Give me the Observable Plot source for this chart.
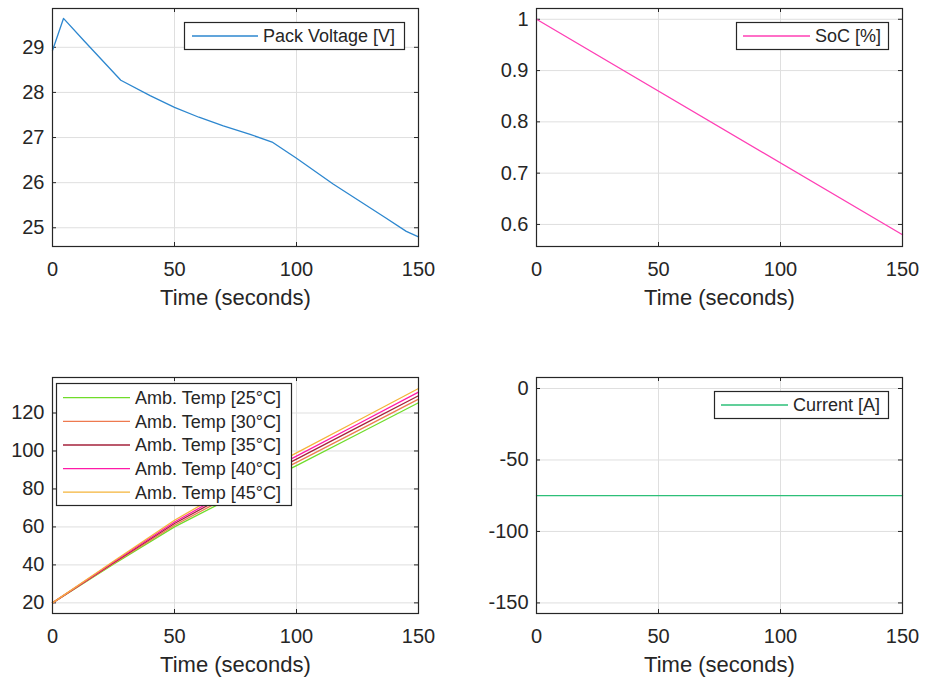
<!DOCTYPE html>
<html><head><meta charset="utf-8">
<script src="https://cdn.jsdelivr.net/npm/d3@7"></script>
<script src="https://cdn.jsdelivr.net/npm/@observablehq/plot@0.6"></script>
<style>
body{margin:0;background:#fff;}
#root{position:relative;width:926px;height:679px;font-family:"Liberation Sans",Arial,sans-serif;color:#262626;background:#fff;}
.cell{position:absolute;}
.cell svg{overflow:visible;}
</style></head><body><div id="root"></div>
<script>
// ---- data ----
const xTicks = [0, 50, 100, 150];

const voltTime = [0, 4.5, 13, 28, 40, 50, 60, 70, 81, 90, 100, 115, 136, 145, 150];
const voltage  = [28.93, 29.64, 29.14, 28.27, 27.93, 27.67, 27.45, 27.26, 27.07, 26.9, 26.54, 25.97, 25.24, 24.92, 24.8];
const voltTicks = [25, 26, 27, 28, 29];

const socTime = [0, 150];
const soc = [1.0, 0.58];
const socTicks = [0.6, 0.7, 0.8, 0.9, 1];

const tempTime = [0, 25, 50, 75, 100, 125, 150];
const temp25 = [20, 40.3, 60.0, 76.5, 92.3, 108.8, 125.4];
const temp30 = [20, 40.7, 60.9, 77.9, 94.0, 110.6, 127.3];
const temp35 = [20, 41.1, 61.8, 79.3, 95.7, 112.4, 129.1];
const temp40 = [20, 41.5, 62.6, 80.6, 97.3, 114.1, 131.0];
const temp45 = [20, 41.9, 63.5, 82.0, 99.0, 115.9, 132.9];
const tempLabels = ["Amb. Temp [25°C]", "Amb. Temp [30°C]", "Amb. Temp [35°C]", "Amb. Temp [40°C]", "Amb. Temp [45°C]"];
const tempTicks = [20, 40, 60, 80, 100, 120];

const curTime = [0, 150];
const current = [-75, -75];
const curTicks = [-150, -100, -50, 0];

const xLabel = "Time (seconds)";

// ---- styles ----
const INK = "#262626";
const GRID = "#dfdfdf";
const colVolt = "#2d87cf";
const colSoc = "#ff3fb5";
const colCur = "#2dbf78";
const colTemps = ["#6fdc2a", "#ee7a4f", "#a5223b", "#ff1aa8", "#f4b43a"];

const root = document.getElementById("root");

function panel({left, top, width, height, mL, mR, mT, mB, yDomain, yTicks, series, labelDy}) {
  const fw = width - mL - mR, fh = height - mT - mB;
  const marks = [
    Plot.gridX(xTicks, {stroke: GRID, strokeOpacity: 1}),
    Plot.gridY(yTicks, {stroke: GRID, strokeOpacity: 1}),
    Plot.axisX(xTicks, {tickSize: 0, tickPadding: 15, fontSize: 20, tickFormat: d => String(d), fill: INK, label: null}),
    Plot.axisY(yTicks, {tickSize: 0, tickPadding: 8, fontSize: 20, tickFormat: d => String(d), fill: INK, label: null}),
    Plot.tickX(xTicks, {x: d => d, insetTop: fh - 4, stroke: INK}),
    Plot.tickX(xTicks, {x: d => d, insetBottom: fh - 4, stroke: INK}),
    Plot.tickY(yTicks, {y: d => d, insetRight: fw - 4, stroke: INK}),
    Plot.tickY(yTicks, {y: d => d, insetLeft: fw - 4, stroke: INK}),
  ];
  for (const s of series) {
    const rows = s.t.map((t, i) => ({t, v: s.v[i]}));
    marks.push(Plot.line(rows, {x: "t", y: "v", stroke: s.color, strokeWidth: 1.3}));
  }
  marks.push(Plot.frame({stroke: INK, strokeWidth: 1.2}));
  marks.push(Plot.text([xLabel], {text: d => d, frameAnchor: "bottom", dy: labelDy, fontSize: 22, fill: INK, lineAnchor: "middle"}));
  const chart = Plot.plot({
    width, height, marginLeft: mL, marginRight: mR, marginTop: mT, marginBottom: mB,
    style: {fontFamily: '"Liberation Sans", Arial, sans-serif', color: INK, background: "transparent", overflow: "visible"},
    x: {domain: [0, 150], axis: null},
    y: {domain: yDomain, axis: null},
    marks
  });
  const div = document.createElement("div");
  div.className = "cell";
  div.style.left = left + "px";
  div.style.top = top + "px";
  div.appendChild(chart);
  root.appendChild(div);
}

function legend({x, y, w, h, items, rowY, lx1, lx2, tx}) {
  const svg = d3.create("svg").attr("width", w).attr("height", h)
    .style("position", "absolute").style("left", x + "px").style("top", y + "px").style("overflow", "visible");
  svg.append("rect").attr("x", 0.5).attr("y", 0.5).attr("width", w - 1).attr("height", h - 1)
    .attr("fill", "#fff").attr("stroke", INK).attr("stroke-width", 1.2);
  items.forEach((it, i) => {
    const cy = rowY[i] - y;
    svg.append("line").attr("x1", lx1 - x).attr("x2", lx2 - x).attr("y1", cy).attr("y2", cy)
      .attr("stroke", it.color).attr("stroke-width", 1.3);
    svg.append("text").attr("x", tx - x).attr("y", cy).attr("dy", "0.35em")
      .attr("font-size", 18).attr("fill", INK)
      .attr("font-family", '"Liberation Sans", Arial, sans-serif').text(it.label);
  });
  root.appendChild(svg.node());
}

// Top-left: pack voltage
panel({left: 0, top: 0, width: 463, height: 320, mL: 52, mR: 45, mT: 8, mB: 74,
  yDomain: [24.585, 29.86], yTicks: voltTicks, labelDy: 51,
  series: [{t: voltTime, v: voltage, color: colVolt}]});
// Top-right: SoC
panel({left: 463, top: 0, width: 463, height: 320, mL: 73, mR: 24, mT: 8, mB: 74,
  yDomain: [0.557, 1.021], yTicks: socTicks, labelDy: 51,
  series: [{t: socTime, v: soc, color: colSoc}]});
// Bottom-left: temperatures
const tempSeries = [temp25, temp30, temp35, temp40, temp45].map((v, i) => ({t: tempTime, v, color: colTemps[i]}));
panel({left: 0, top: 360, width: 463, height: 319, mL: 52, mR: 45, mT: 17, mB: 66,
  yDomain: [14.4, 138.7], yTicks: tempTicks, labelDy: 51,
  series: tempSeries});
// Bottom-right: current
panel({left: 463, top: 360, width: 463, height: 319, mL: 73, mR: 24, mT: 17, mB: 66,
  yDomain: [-157.4, 7.7], yTicks: curTicks, labelDy: 51,
  series: [{t: curTime, v: current, color: colCur}]});

// Legends
legend({x: 184, y: 22, w: 221, h: 28, items: [{label: "Pack Voltage [V]", color: colVolt}],
  rowY: [36], lx1: 192, lx2: 258, tx: 263});
legend({x: 736, y: 22, w: 153, h: 28, items: [{label: "SoC [%]", color: colSoc}],
  rowY: [36], lx1: 743, lx2: 810, tx: 815});
legend({x: 56, y: 383, w: 236, h: 123,
  items: tempLabels.map((label, i) => ({label, color: colTemps[i]})),
  rowY: [397.7, 421.3, 445, 468.6, 492.2], lx1: 63, lx2: 130, tx: 135});
legend({x: 714, y: 391, w: 175, h: 28, items: [{label: "Current [A]", color: colCur}],
  rowY: [405], lx1: 721, lx2: 788, tx: 793});
</script>
</body></html>
